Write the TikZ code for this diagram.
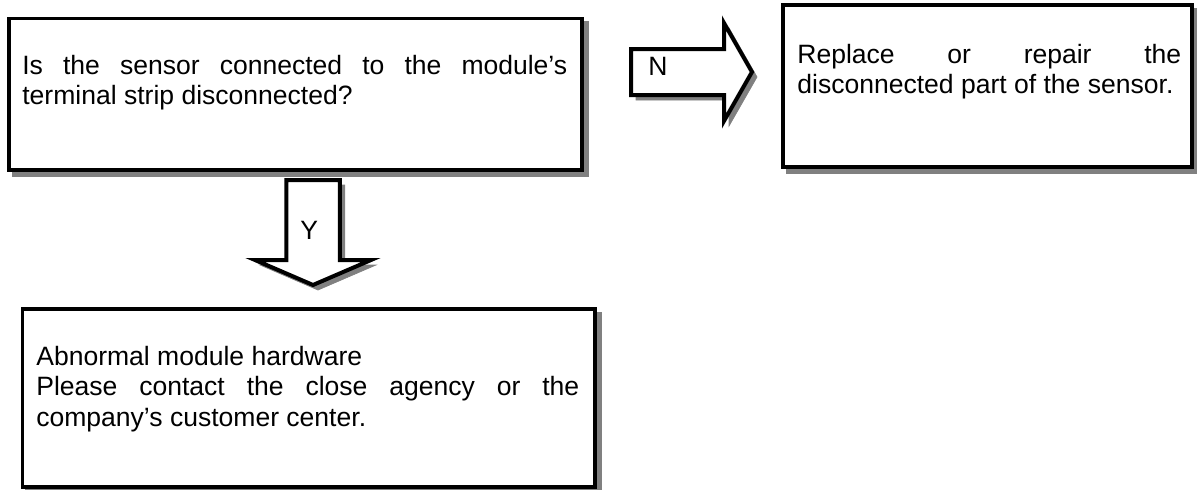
\documentclass[tikz,border=0pt]{standalone}
\usepackage{fontspec}
\setmainfont{Liberation Sans}
\usetikzlibrary{calc,shadows}
\definecolor{shadowgray}{RGB}{128,128,128}
\tikzset{
    lab/.style={
        font=\fontsize{15.1pt}{17.2pt}\selectfont
    }
}
\hyphenpenalty=10000

\begin{document}
\begin{tikzpicture}[x=0.02cm,y=0.02cm, line join=miter]

\tikzset{
  shade/.style={drop shadow={shadow xshift=0.1cm, shadow yshift=-0.1cm, opacity=1, fill=shadowgray, draw=shadowgray}},
  panel/.style={draw=black, fill=white, line width=0.08cm, inner sep=0pt, anchor=north west, shade},
  blockarr/.style={draw=black, fill=white, line width=0.08cm, shade},
  txt/.style={lab, inner sep=0pt, anchor=base west, align=justify},
  flab/.style={lab, inner sep=0pt, anchor=base west},
}

\useasboundingbox (0,0) rectangle (1197,-490);

% boxes
\node[panel, minimum width=11.46cm, minimum height=3.03cm] (ask) at (7,-16.5) {};
\node[panel, minimum width=8.2cm, minimum height=3.24cm] (fix) at (780.5,-3.3) {};
\node[panel, minimum width=11.45cm, minimum height=3.56cm] (call) at (20.5,-307) {};

% arrow ends
\coordinate (noA) at (631,-72);
\coordinate (noB) at (752,-72);
\coordinate (yesA) at (313,-180);
\coordinate (yesB) at (313,-285);

% N arrow (ask -> fix)
\draw[blockarr] ($(noA)+(0,23)$) -- ($(noB)+(-28,23)$) -- ($(noB)+(-28,49)$) -- (noB)
  -- ($(noB)+(-28,-49)$) -- ($(noB)+(-28,-23)$) -- ($(noA)+(0,-23)$) -- cycle;

% Y arrow (ask -> call)
\draw[blockarr] ($(yesA)+(-26.75,0)$) -- ($(yesA)+(26.75,0)$) -- ($(yesB)+(26.75,25)$) -- ($(yesB)+(58,25)$)
  -- (yesB) -- ($(yesB)+(-58,25)$) -- ($(yesB)+(-26.75,25)$) -- cycle;

% texts
\node[txt, text width=10.9cm] (askT) at ($(ask.north west)+(15,-57.5)$)
  {Is the sensor connected to the module's\linebreak terminal strip disconnected?};
\node[txt, text width=7.68cm] (fixT) at ($(fix.north west)+(16.5,-60)$)
  {Replace or repair the\linebreak disconnected part of the sensor.};
\node[txt, text width=10.86cm] (callT) at ($(call.north west)+(15.5,-58.7)$)
  {Abnormal module hardware\\ Please contact the close agency or the\linebreak company's customer center.};

% labels
\node[flab] (noL) at (648,-75) {N};
\node[flab] (yesL) at (300,-239) {Y};

\end{tikzpicture}
\end{document}
